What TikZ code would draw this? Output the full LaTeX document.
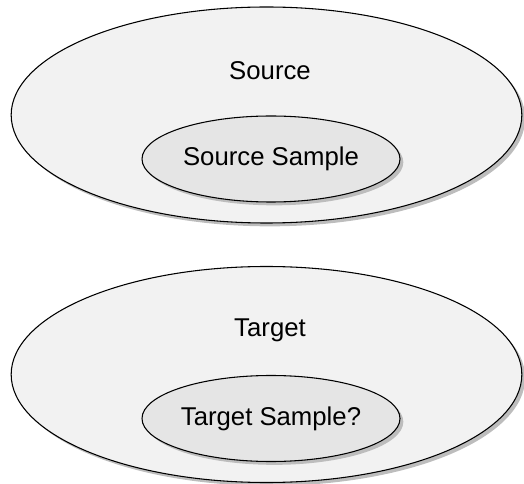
\documentclass[tikz,border=0pt]{standalone}
\usepackage{fontspec}
\setmainfont{Liberation Sans}
\usetikzlibrary{shapes.geometric,shadows}
\definecolor{popfill}{HTML}{F2F2F2}
\definecolor{samplefill}{HTML}{E5E5E5}
\definecolor{shadowgray}{HTML}{BDBDBD}
\tikzset{
  set/.style={ellipse, draw, line width=0.8pt, inner sep=0pt, fill=#1,
    drop shadow={shadow xshift=2.5pt, shadow yshift=-2.5pt, opacity=1, fill=shadowgray}},
  setname/.style={font=\fontsize{19.3pt}{23pt}\selectfont}
}
\begin{document}
\begin{tikzpicture}[x=0.75pt, y=-0.75pt]
\useasboundingbox (0, 0) rectangle (524, 484);

\node[set=popfill, minimum width=383pt, minimum height=162pt] (source) at (266.5, 115) {};
\node[setname] (sourcelbl) at (270, 71) {Source};
\node[set=samplefill, minimum width=193.5pt, minimum height=64.5pt, setname] (sourcesample) at (271, 159) {Source Sample};

\node[set=popfill, minimum width=383pt, minimum height=162pt] (target) at (266.5, 374.5) {};
\node[setname] (targetlbl) at (270, 330) {Target};
\node[set=samplefill, minimum width=193.5pt, minimum height=64.5pt, setname] (targetsample) at (271, 418.5) {Target Sample?};
\end{tikzpicture}
\end{document}
